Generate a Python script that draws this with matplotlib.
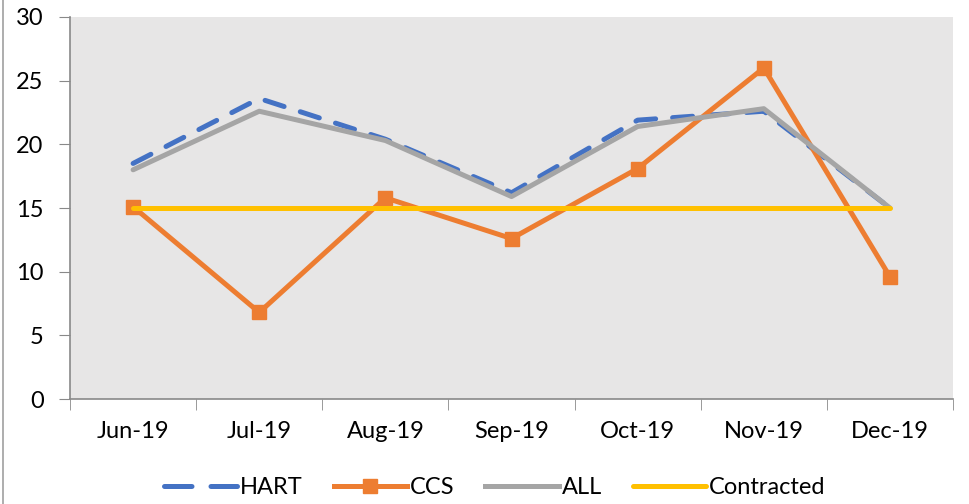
import matplotlib
matplotlib.use("Agg")
import matplotlib.pyplot as plt
from matplotlib.lines import Line2D

months = ["Jun-19", "Jul-19", "Aug-19", "Sep-19", "Oct-19", "Nov-19", "Dec-19"]
hart = [18.5, 23.6, 20.4, 16.2, 21.9, 22.6, 15.0]
ccs = [15.1, 6.8, 15.8, 12.6, 18.1, 26.0, 9.6]
all_ = [18.0, 22.6, 20.3, 15.9, 21.4, 22.8, 15.0]
contracted = [15, 15, 15, 15, 15, 15, 15]
yticks = [0, 5, 10, 15, 20, 25, 30]

plt.rcParams['font.family'] = ['Lato', 'DejaVu Sans']
fs = 17

fig = plt.figure(figsize=(9.7, 5.04), dpi=100)
ax = fig.add_axes([0.0722, 0.2083, 0.9103, 0.758])
ax.set_facecolor("#E7E6E6")

x = list(range(len(months)))
lw = 3.6
ax.plot(x, hart, color="#4472C4", lw=lw, linestyle=(0, (4, 3.4)), dash_capstyle='round', solid_capstyle='round', zorder=2)
ax.plot(x, ccs, color="#ED7D31", lw=lw, marker='s', markersize=10, zorder=3)
ax.plot(x, all_, color="#A5A5A5", lw=lw, solid_capstyle='round', zorder=4)
ax.plot(x, contracted, color="#FFC000", lw=lw, solid_capstyle='round', zorder=5)

ax.set_xlim(-0.5, len(months) - 0.5)
ax.set_ylim(0, 30)
ax.set_yticks(yticks)
ax.set_yticklabels([str(v) for v in yticks], fontsize=fs)
ax.set_xticks(x)
ax.set_xticklabels(months, fontsize=fs)
ax.set_xticks([i - 0.5 for i in range(len(months) + 1)], minor=True)
ax.tick_params(axis='x', which='major', length=0, pad=16)
ax.tick_params(axis='x', which='minor', length=8, color="#898989", direction='out')
ax.tick_params(axis='y', length=8, color="#898989", direction='out', pad=11)

for s in ['top', 'right']:
    ax.spines[s].set_visible(False)
for s in ['left', 'bottom']:
    ax.spines[s].set_color("#898989")
    ax.spines[s].set_linewidth(1.2)

handles = [
    Line2D([], [], color="#4472C4", lw=lw, linestyle=(0, (5.5, 3.8)), dash_capstyle='round'),
    Line2D([], [], color="#ED7D31", lw=lw, marker='s', markersize=10),
    Line2D([], [], color="#A5A5A5", lw=lw),
    Line2D([], [], color="#FFC000", lw=lw, solid_capstyle='round'),
]
fig.legend(handles, ["HART", "CCS", "ALL", "Contracted"], loc='center', bbox_to_anchor=(0.51, 0.032),
           ncol=4, frameon=False, fontsize=fs, handlelength=3.1, columnspacing=1.3, handletextpad=0.13)

fig.add_artist(Line2D([0.003, 0.003], [0, 1], transform=fig.transFigure, color="#A0A0A0", lw=1.2))

fig.savefig("out.png", dpi=100)
